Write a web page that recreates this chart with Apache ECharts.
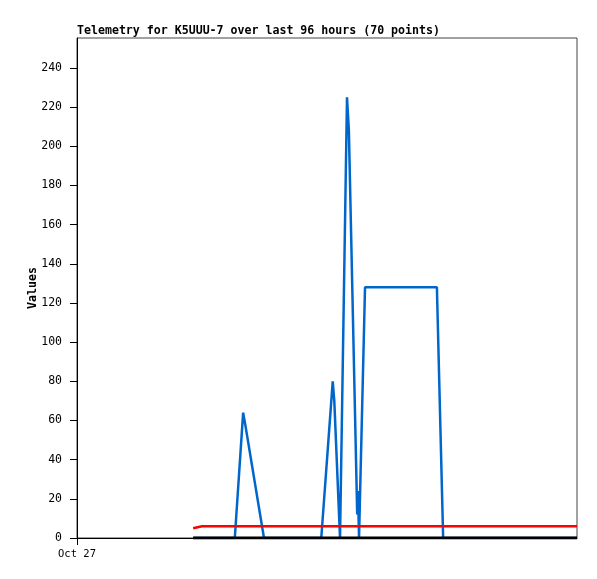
<!DOCTYPE html>
<html>
<head>
<meta charset="utf-8">
<script src="https://cdn.jsdelivr.net/npm/echarts@6/dist/echarts.min.js"></script>
<style>
html,body{margin:0;padding:0;background:#fff;}
#c{width:597px;height:579px;}
</style>
</head>
<body>
<div id="c"></div>
<script>
// Hours since Oct 27 00:00 (x axis spans 96 hours)
const hours = [22.3, 24.0, 30.3, 31.9, 32.3, 35.9, 46.9, 49.1, 49.4, 50.5, 51.84, 52.2, 53.8, 53.95, 54.15, 55.3, 69.1, 70.3, 96.0];
const blueValues = [0, 0, 0, 64, 58, 0, 0, 80, 70, 0, 225, 208, 12, 24, 0, 128, 128, 0, 0];
const redValues = [5, 6, 6, 6, 6, 6, 6, 6, 6, 6, 6, 6, 6, 6, 6, 6, 6, 6, 6];
const blackValues = [0, 0, 0, 0, 0, 0, 0, 0, 0, 0, 0, 0, 0, 0, 0, 0, 0, 0, 0];
const yTicks = [0, 20, 40, 60, 80, 100, 120, 140, 160, 180, 200, 220, 240];
const xTickHours = [0];
const xTickLabels = ['Oct 27'];
const titleText = 'Telemetry for K5UUU-7 over last 96 hours (70 points)';
const yName = 'Values';

const pair = (vals) => hours.map((h, i) => [h, vals[i]]);
const font = 'DejaVu Sans Mono';

const chart = echarts.init(document.getElementById('c'), null, {renderer: 'canvas'});
chart.setOption({
  animation: false,
  backgroundColor: '#fff',
  title: {
    text: titleText,
    left: 72, top: 20,
    textStyle: {fontFamily: font, fontSize: 11.6, fontWeight: 'bold', color: '#000'}
  },
  grid: {left: 77, top: 38, right: 20, bottom: 41, show: true, borderColor: '#444', borderWidth: 1, backgroundColor: '#fff'},
  xAxis: {
    type: 'value', min: 0, max: 96,
    splitLine: {show: false},
    axisLine: {show: true, onZero: false, lineStyle: {color: '#000', width: 1}},
    axisTick: {show: true, customValues: xTickHours, length: 7, lineStyle: {color: '#000'}},
    axisLabel: {
      customValues: xTickHours,
      formatter: (v) => { const i = xTickHours.indexOf(v); return i >= 0 ? xTickLabels[i] : ''; },
      fontFamily: font, fontSize: 10.5, color: '#000', margin: 11
    }
  },
  yAxis: {
    type: 'value', min: 0, max: 255.3,
    name: yName, nameLocation: 'middle', nameGap: 38, nameRotate: 90, nameMoveOverlap: false,
    nameTextStyle: {fontFamily: font, fontSize: 11.6, fontWeight: 'bold', color: '#000'},
    splitLine: {show: false},
    axisLine: {show: true, lineStyle: {color: '#000', width: 1}},
    axisTick: {show: true, customValues: yTicks, length: 7, lineStyle: {color: '#000'}},
    axisLabel: {customValues: yTicks, fontFamily: font, fontSize: 11.5, color: '#000', margin: 15}
  },
  series: [
    {type: 'line', data: pair(blueValues), symbol: 'none', lineStyle: {color: '#0066cc', width: 2.5}, z: 2},
    {type: 'line', data: pair(redValues), symbol: 'none', lineStyle: {color: '#ff0000', width: 2.5}, z: 3},
    {type: 'line', data: pair(blackValues), symbol: 'none', lineStyle: {color: '#000000', width: 3}, z: 4}
  ]
});
</script>
</body>
</html>
